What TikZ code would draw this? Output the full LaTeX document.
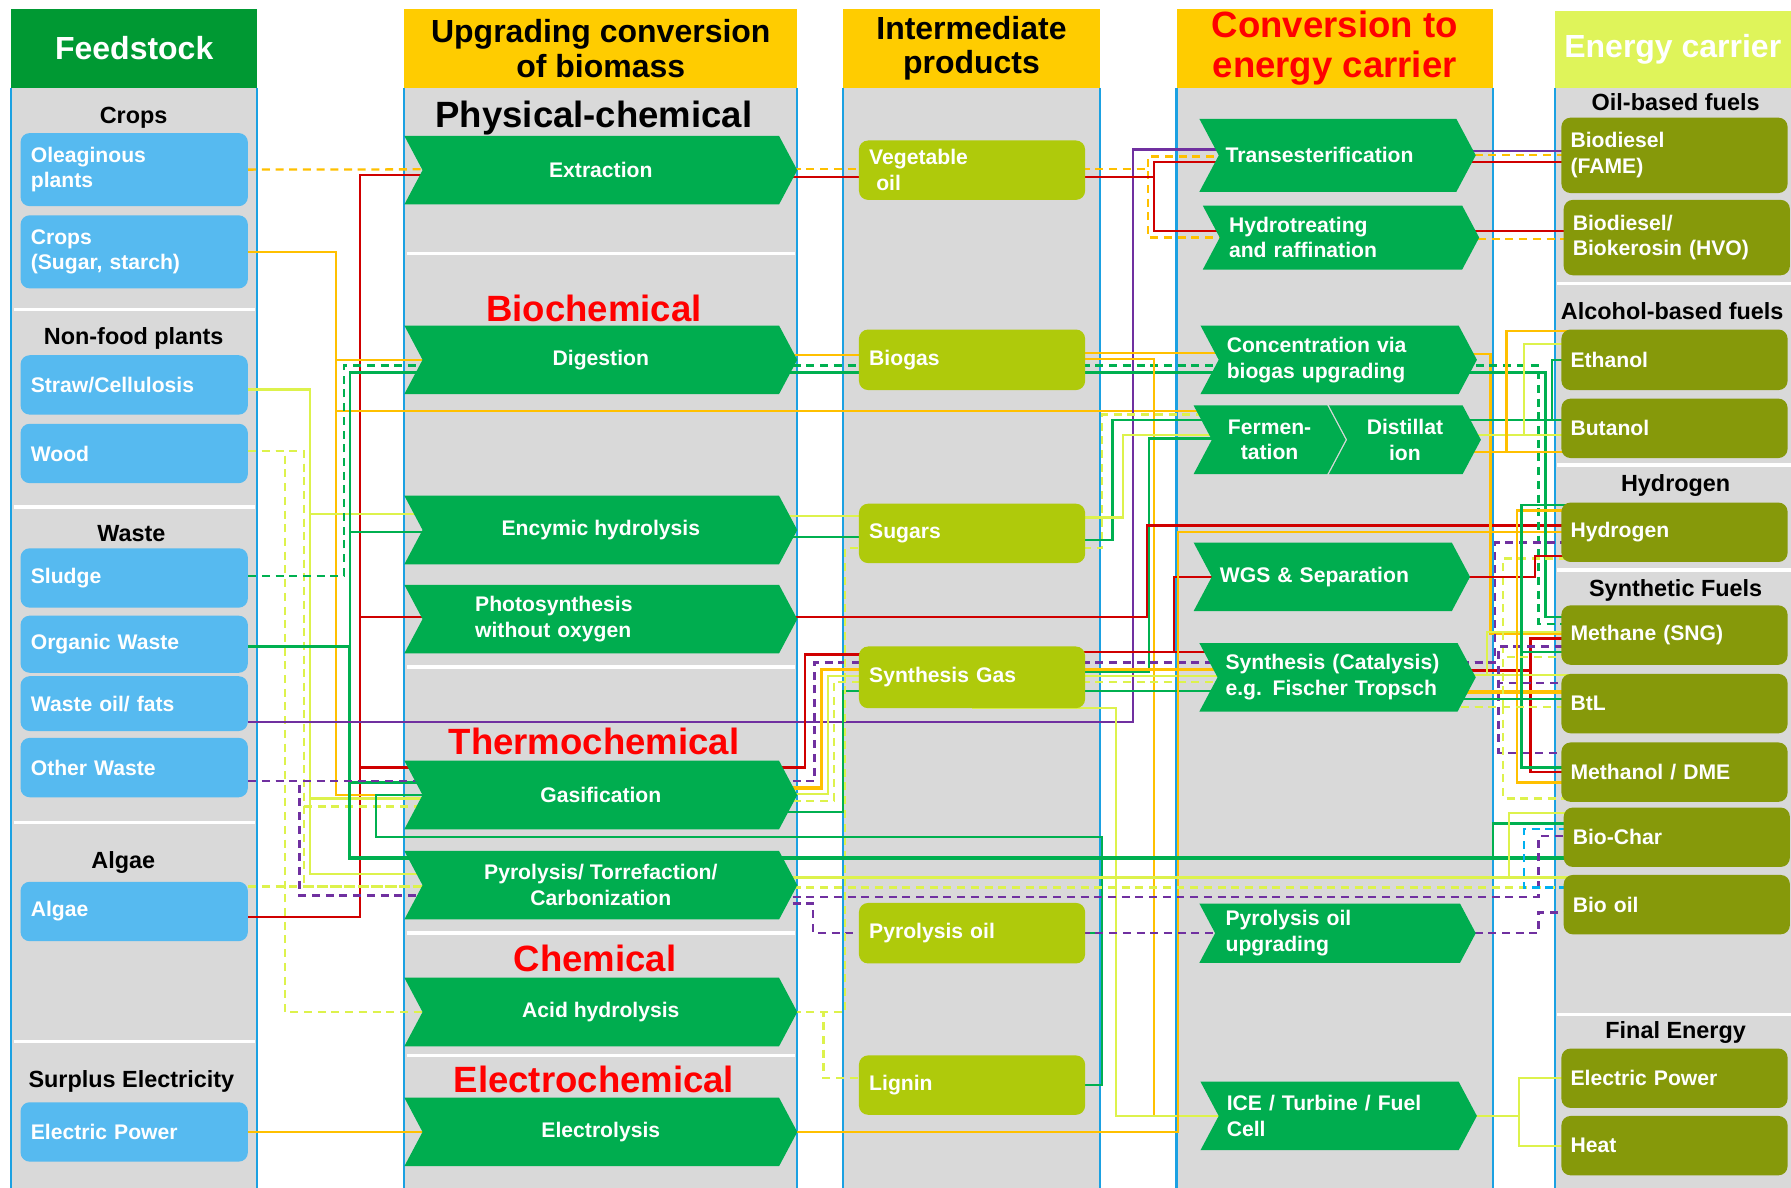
\documentclass[tikz,border=0pt]{standalone}
\usepackage{fontspec}
\setmainfont{Liberation Sans}
\usepackage{tikz}
\usetikzlibrary{shapes.symbols, positioning, calc}
\pgfdeclarelayer{bg}
\pgfdeclarelayer{wires}
\pgfsetlayers{bg,wires,main}
\definecolor{colgray}{HTML}{D9D9D9}
\definecolor{colblue}{HTML}{1BA1E2}
\definecolor{feedblue}{HTML}{56BAF0}
\definecolor{headgreen}{HTML}{009933}
\definecolor{headyellow}{HTML}{FFCC00}
\definecolor{headlime}{HTML}{DFF45A}
\definecolor{procgreen}{HTML}{00AD4F}
\definecolor{midlime}{HTML}{AFCA0B}
\definecolor{carrolive}{HTML}{86990A}
\definecolor{titlered}{HTML}{FF0000}
\definecolor{wred}{HTML}{D00000}
\definecolor{worange}{HTML}{FFC000}
\definecolor{wgreen}{HTML}{00B050}
\definecolor{wlime}{HTML}{DDF24C}
\definecolor{wpurple}{HTML}{7030A0}
\definecolor{wcyan}{HTML}{00B0F0}
\newcommand{\bxfont}{\fontsize{18.5}{22.5}\selectfont\bfseries}
\newcommand{\secfont}{\fontsize{20.5}{24}\selectfont\bfseries}
\newcommand{\bigfont}{\fontsize{32}{36}\selectfont\bfseries}
\newcommand{\hdfont}{\fontsize{28}{30}\selectfont\bfseries}
\tikzset{
  feed/.style={rounded corners=8pt, fill=feedblue, text=white, font=\bxfont, minimum width=199pt, minimum height=52pt, text width=181pt, align=left, inner sep=0pt},
  mid/.style={feed, fill=midlime, minimum width=198pt, text width=180pt},
  carr/.style={feed, fill=carrolive, minimum width=198pt, text width=182pt},
  proc/.style={signal, signal from=west, signal to=east, signal pointer angle=124, fill=procgreen, text=white, font=\bxfont, minimum width=344pt, minimum height=60pt, inner sep=0pt, align=center},
  conv/.style={proc, minimum width=242pt, text width=196pt, align=left},
  hdr/.style={minimum height=69pt, inner sep=0pt, font=\hdfont, align=center},
  sec/.style={font=\secfont, inner sep=0pt},
  big/.style={font=\bigfont, inner sep=0pt},
  wire/.style={line width=2pt},
  lnR/.style={wire, draw=wred},
  lnO/.style={wire, draw=worange},
  lnG/.style={wire, draw=wgreen},
  lnL/.style={wire, draw=wlime},
  lnP/.style={wire, draw=wpurple},
  lnC/.style={wire, draw=wcyan},
  dsh/.style={dash pattern=on 7pt off 5pt},
  thk/.style={line width=3pt}
}
\begin{document}
\begin{tikzpicture}[x=1pt, y=-1pt]
\useasboundingbox (0,0) rectangle (1568,1040);

% columns
\begin{pgfonlayer}{bg}
  \foreach \xa/\xb in {10/225, 354/698, 738/963, 1030/1307} {
    \fill[colgray] (\xa,77) rectangle (\xb,1040);
    \draw[colblue, line width=1.8pt] (\xa,77) -- (\xa,1040) (\xb,77) -- (\xb,1040);
  }
  \fill[colgray] (1361,77) rectangle (1568,1040);
  \draw[colblue, line width=1.8pt] (1361,77) -- (1361,1040);
  \foreach \yy in {271, 444, 720, 912} \draw[white, line width=3pt] (12,\yy) -- (223,\yy);
  \foreach \yy in {222, 584, 817, 924} \draw[white, line width=3pt] (356,\yy) -- (696,\yy);
  \foreach \yy in {248, 407, 499, 888} \draw[white, line width=3pt] (1363,\yy) -- (1568,\yy);
\end{pgfonlayer}

% headers
\node[hdr, fill=headgreen, text=white, minimum width=215pt] (hfeed) at (117.5,42.5) {Feedstock};
\node[hdr, fill=headyellow, minimum width=344pt] (hupg) at (526,42.5) {Upgrading conversion\\of biomass};
\node[hdr, fill=headyellow, minimum width=225pt] (hmid) at (850.5,42.5) {Intermediate\\products};
\node[hdr, fill=headyellow, minimum width=277pt, text=titlered, font=\fontsize{32}{35}\selectfont\bfseries] (hconv) at (1168.5,42.5) {Conversion to\\energy carrier};
\node[hdr, fill=headlime, text=white, minimum width=207pt, minimum height=67pt] (hcarr) at (1464.5,43.5) {Energy carrier};

% group labels
\node[sec] (lcrops) at (117,103) {Crops};
\node[sec] (lnonfood) at (117,296) {Non-food plants};
\node[sec] (lwaste) at (115,467) {Waste};
\node[sec] (lalgae) at (108,755) {Algae};
\node[sec] (lsurplus) at (115,947) {Surplus Electricity};
\node[big] (lphys) at (520,103) {Physical-chemical};
\node[big, text=titlered] (lbio) at (520,270) {Biochemical};
\node[big, text=titlered] (lthermo) at (520,649) {Thermochemical};
\node[big, text=titlered] (lchem) at (521,839) {Chemical};
\node[big, text=titlered] (lelchem) at (520,945) {Electrochemical};
\node[sec] (loil) at (1467,89) {Oil-based fuels};
\node[sec] (lalc) at (1464,272) {Alcohol-based fuels};
\node[sec] (lhyd) at (1467,425) {Hydrogen};
\node[sec] (lsyn) at (1467,517) {Synthetic Fuels};
\node[sec] (lfinal) at (1467,904) {Final Energy};

% feedstock
\node[feed, minimum height=64pt] (oleag) at (117.5,148.5) {Oleaginous\\plants};
\node[feed, minimum height=64pt] (cropss) at (117.5,220.5) {Crops\\(Sugar, starch)};
\node[feed] (straw) at (117.5,337) {Straw/Cellulosis};
\node[feed] (wood) at (117.5,397) {Wood};
\node[feed] (sludge) at (117.5,506) {Sludge};
\node[feed, minimum height=50pt] (orgw) at (117.5,564) {Organic Waste};
\node[feed, minimum height=48pt] (woil) at (117.5,616) {Waste oil/ fats};
\node[feed] (otherw) at (117.5,672) {Other Waste};
\node[feed] (algae) at (117.5,798) {Algae};
\node[feed] (elpow) at (117.5,991) {Electric Power};

% upgrading
\node[proc] (extr) at (526,149) {Extraction};
\node[proc] (dig) at (526,315) {Digestion};
\node[proc] (encym) at (526,464) {Encymic hydrolysis};
\node[proc, text width=220pt, align=left] (photo) at (526,542) {Photosynthesis\\without oxygen};
\node[proc] (gasif) at (526,696) {Gasification};
\node[proc] (pyro) at (526,775) {Pyrolysis/ Torrefaction/\\Carbonization};
\node[proc] (acid) at (526,886) {Acid hydrolysis};
\node[proc] (elys) at (526,991) {Electrolysis};

% intermediate products
\node[mid] (vegoil) at (851,149) {Vegetable\\\ oil};
\node[mid, minimum height=53pt] (biogas) at (851,315) {Biogas};
\node[mid] (sugars) at (851,467) {Sugars};
\node[mid, minimum height=54pt] (syngas) at (851,593) {Synthesis Gas};
\node[mid, minimum height=53pt] (pyroil) at (851,817) {Pyrolysis oil};
\node[mid] (lignin) at (851,950) {Lignin};

% conversion
\node[conv, minimum height=64pt] (trans) at (1171,136) {Transesterification};
\node[conv, minimum height=56pt] (hydro) at (1174,208) {Hydrotreating\\and raffination};
\node[conv] (conc) at (1172,315) {Concentration via\\biogas upgrading};
\node[conv, minimum width=133pt, text width=100pt, align=center] (ferm) at (1111.5,385) {Fermen-\\tation};
\node[conv, minimum width=133pt, text width=100pt, align=center] (dist) at (1230,385) {Distillat\\ion};
\node[conv] (wgs) at (1166,505) {WGS \& Separation};
\node[conv] (synth) at (1171,593) {Synthesis (Catalysis)\\e.g. Fischer Tropsch};
\node[conv, minimum height=52pt] (pyrupg) at (1171,817) {Pyrolysis oil\\upgrading};
\node[conv] (ice) at (1172,977) {ICE / Turbine / Fuel\\Cell};

% energy carriers
\node[carr, minimum height=66pt] (fame) at (1466,136) {Biodiesel\\(FAME)};
\node[carr, minimum height=66pt] (hvo) at (1468,208) {Biodiesel/\\Biokerosin (HVO)};
\node[carr, minimum height=53pt] (ethanol) at (1466,315) {Ethanol};
\node[carr] (butanol) at (1466,375) {Butanol};
\node[carr] (hydrogen) at (1466,466) {Hydrogen};
\node[carr] (methane) at (1466,556) {Methane (SNG)};
\node[carr] (btl) at (1466,616) {BtL};
\node[carr] (methanol) at (1466,676) {Methanol / DME};
\node[carr] (biochar) at (1468,733) {Bio-Char};
\node[carr] (biooil) at (1468,792) {Bio oil};
\node[carr] (elec) at (1466,944) {Electric Power};
\node[carr] (heat) at (1466,1003) {Heat};

\begin{pgfonlayer}{wires}
% feedstock -> upgrading
\draw[lnO, dsh] (oleag.east) -- ([yshift=1pt]extr.center);
\draw[lnR] ([yshift=-5pt]algae.east) -- ++(98,0) |- ([yshift=-4pt]extr.center);
\draw[lnR] ([yshift=-5pt]algae.east) -- ++(98,0) |- ([yshift=2pt]photo.center);
\draw[lnR] ([yshift=-5pt]algae.east) -- ++(98,0) |- ([yshift=24pt]gasif.center);
\draw[lnO] (cropss.east) -- ++(77,0) |- (dig.center);
\draw[lnO] (cropss.east) -- ++(77,0) |- ([yshift=25pt]ferm.center);
\draw[lnO] (cropss.east) -- ++(77,0) |- (gasif.center);
\draw[lnL] ([yshift=-4pt]straw.east) -- ++(54,0) |- ([yshift=14pt]encym.center);
\draw[lnL] ([yshift=-4pt]straw.east) -- ++(54,0) |- ([yshift=-3pt]gasif.center);
\draw[lnL] ([yshift=-4pt]straw.east) -- ++(54,0) |- ([yshift=10pt]pyro.center);
\draw[lnL, dsh] ([yshift=2pt]wood.east) -- ++(49,0) |- ([yshift=-10pt]gasif.center);
\draw[lnL, dsh] ([yshift=2pt]wood.east) -- ++(49,0) |- ([yshift=-1pt]pyro.center);
\draw[lnL, dsh] ([yshift=2pt]wood.east) -- ++(32,0) |- (acid.center);
\draw[lnL, dsh] ([yshift=22pt]algae.east) -- ([yshift=-1pt]pyro.center);
\draw[lnG, dsh] ([yshift=2pt]sludge.east) -- ++(84,0) |- ([yshift=-5pt]dig.center);
\draw[lnG] ([yshift=-2pt]orgw.east) -- ++(89,0) |- ([yshift=-11pt]dig.center);
\draw[lnG] ([yshift=-2pt]orgw.east) -- ++(89,0) |- ([yshift=-2pt]encym.center);
\draw[lnG] ([yshift=-2pt]orgw.east) -- ++(89,0) |- ([yshift=11pt]gasif.center);
\draw[lnG, thk] ([yshift=-2pt]orgw.east) -- ++(89,0) |- ([yshift=24pt]pyro.center);
\draw[lnP] ([yshift=-16pt]woil.east) -- ++(775,0) |- ([yshift=5pt]trans.center);
\draw[lnP, dsh] ([yshift=-12pt]otherw.east) -- ([yshift=12pt]gasif.center);
\draw[lnP, dsh] ([yshift=-12pt]otherw.east) -- ++(45,0) |- ([yshift=-9pt]pyro.center);
\draw[lnO] (elpow.east) -- (elys.center);

% upgrading -> intermediate products
\draw[lnO, dsh] ([yshift=1pt]extr.center) -- ([yshift=1pt]vegoil.center);
\draw[lnR] ([yshift=-6pt]extr.center) -- ([yshift=-6pt]vegoil.center);
\draw[lnO] ([yshift=4pt]dig.center) -- ([yshift=4pt]biogas.center);
\draw[lnG, dsh] ([yshift=-5pt]dig.center) -- ([yshift=-5pt]biogas.center);
\draw[lnG] ([yshift=-11pt]dig.center) -- ([yshift=-11pt]biogas.center);
\draw[lnL] ([yshift=12pt]encym.center) -- ([yshift=15pt]sugars.center);
\draw[lnG] ([yshift=-6pt]encym.center) -- ([yshift=-3pt]sugars.center);
\draw[lnR] ([yshift=24pt]gasif.center) -- ++(179,0) |- ([yshift=20pt]syngas.center);
\draw[lnP, dsh] ([yshift=12pt]gasif.center) -- ++(187,0) |- ([yshift=13pt]syngas.center);
\draw[lnO, thk] ([yshift=6pt]gasif.center) -- ++(193,0) |- ([yshift=7pt]syngas.center);
\draw[lnL] ([yshift=1pt]gasif.center) -- ++(199,0) |- ([yshift=1pt]syngas.center);
\draw[lnL, dsh] ([yshift=-5pt]gasif.center) -- ++(204,0) |- ([yshift=-4pt]syngas.center);
\draw[lnG] ([yshift=-15pt]gasif.center) -- ++(212,0) |- ([yshift=-12pt]syngas.center);
\draw[lnP, dsh] ([yshift=-16pt]pyro.center) -- ++(186,0) |- (pyroil.center);
\draw[lnL, dsh] (acid.center) -- ++(195,0) |- ([yshift=6pt]lignin.center);
\draw[lnL, dsh] (acid.center) -- ++(214,0) -- ++(0,-406) -- ++(225,0) |- ([yshift=22pt]ferm.center);
\draw[lnG] (pyroil.center) -- ++(114,0) -- ++(0,-84) -- ++(-636,0) |- (gasif.center);
\draw[lnG] (lignin.center) -- ++(114,0) |- (pyroil.center);

% intermediate products -> conversion
\draw[lnO, dsh] ([yshift=1pt]vegoil.center) -- ++(154,0) |- ([yshift=-1pt]trans.center);
\draw[lnO, dsh] ([yshift=1pt]vegoil.center) -- ++(154,0) |- (hydro.center);
\draw[lnR] ([yshift=-6pt]vegoil.center) -- ++(159,0) |- ([yshift=-6pt]trans.center);
\draw[lnR] ([yshift=-6pt]vegoil.center) -- ++(159,0) |- ([yshift=6pt]hydro.center);
\draw[lnO] ([yshift=6pt]biogas.center) -- ([yshift=6pt]conc.center);
\draw[lnG, dsh] ([yshift=-5pt]biogas.center) -- ([yshift=-5pt]conc.center);
\draw[lnG] ([yshift=-11pt]biogas.center) -- ([yshift=-11pt]conc.center);
\draw[lnO] ([yshift=1pt]biogas.center) -- ++(159,0) |- (ice.center);
\draw[lnG] ([yshift=-6pt]sugars.center) -- ++(123,0) |- ([yshift=17pt]ferm.center);
\draw[lnL] ([yshift=14pt]sugars.center) -- ++(132,0) |- ([yshift=4pt]ferm.center);
\draw[lnG] ([yshift=5pt]syngas.center) -- ++(155,0) |- ([yshift=1pt]ferm.center);
\draw[lnR] ([yshift=22pt]syngas.center) -- ++(177,0) |- (wgs.center);
\draw[lnR] ([yshift=22pt]syngas.center) -- ([yshift=22pt]synth.center);
\draw[lnP, dsh] ([yshift=13pt]syngas.center) -- ([yshift=13pt]synth.center);
\draw[lnO, thk] ([yshift=7pt]syngas.center) -- ([yshift=7pt]synth.center);
\draw[lnL] ([yshift=1pt]syngas.center) -- ([yshift=1pt]synth.center);
\draw[lnL, dsh] ([yshift=-4pt]syngas.center) -- ([yshift=-4pt]synth.center);
\draw[lnG] ([yshift=-12pt]syngas.center) -- ([yshift=-12pt]synth.center);
\draw[lnL] ([yshift=-27pt]syngas.center) -- ++(126,0) |- (ice.center);
\draw[lnR] ([yshift=2pt]photo.center) -- ++(478,0) |- ([yshift=6pt]hydrogen.center);
\draw[lnO] (elys.center) -- ++(505,0) |- (hydrogen.center);
\draw[lnP, dsh] (pyroil.center) -- (pyrupg.center);

% conversion -> energy carriers
\draw[lnP] ([yshift=4pt]trans.center) -- ([yshift=4pt]fame.center);
\draw[lnO, dsh] (trans.center) -- (fame.center);
\draw[lnR] ([yshift=-6pt]trans.center) -- ([yshift=-6pt]fame.center);
\draw[lnR] ([yshift=6pt]hydro.center) -- ([yshift=6pt]hvo.center);
\draw[lnO, dsh] ([yshift=-1pt]hydro.center) -- ([yshift=-1pt]hvo.center);
\draw[lnO] ([yshift=5pt]conc.center) -- ++(133,0) |- ([yshift=1pt]methane.center);
\draw[lnG, dsh] ([yshift=-5pt]conc.center) -- ++(175,0) |- ([yshift=10pt]methane.center);
\draw[lnG] ([yshift=-11pt]conc.center) -- ++(181,0) |- ([yshift=16pt]methane.center);
\draw[lnG] ([yshift=17pt]dist.center) -- ([yshift=7pt]butanol.center);
\draw[lnG] ([yshift=17pt]dist.center) -- ++(129,0) |- (ethanol.center);
\draw[lnL] ([yshift=4pt]dist.center) -- ([yshift=-6pt]butanol.center);
\draw[lnL] ([yshift=4pt]dist.center) -- ++(104,0) |- ([yshift=14pt]ethanol.center);
\draw[lnO] ([yshift=-11pt]dist.center) -- ([yshift=-21pt]butanol.center);
\draw[lnO] ([yshift=-11pt]dist.center) -- ++(89,0) |- ([yshift=25pt]ethanol.center);
\draw[lnL, dsh] ([yshift=-26pt]synth.center) -- ++(145,0) |- ([yshift=-23pt]hydrogen.center);
\draw[lnR] (wgs.center) -- ++(178,0) |- ([yshift=-21pt]hydrogen.center);
\draw[lnR] ([yshift=6pt]synth.center) -- ++(169,0) |- (methanol.center);
\draw[lnR] ([yshift=6pt]synth.center) -- ++(169,0) |- ([yshift=-3pt]methane.center);
\draw[lnP, dsh] ([yshift=13pt]synth.center) -- ++(138,0) |- ([yshift=-9pt]hydrogen.center);
\draw[lnP, dsh] ([yshift=13pt]synth.center) -- ++(141,0) |- ([yshift=-10pt]methane.center);
\draw[lnP, dsh] ([yshift=13pt]synth.center) -- ++(141,0) |- ([yshift=18pt]btl.center);
\draw[lnP, dsh] ([yshift=13pt]synth.center) -- ++(141,0) |- ([yshift=17pt]methanol.center);
\draw[lnL] ([yshift=2pt]synth.center) -- ([yshift=25pt]btl.center);
\draw[lnL] ([yshift=2pt]synth.center) -- ++(131,0) |- ([yshift=3pt]methane.center);
\draw[lnO, thk] ([yshift=-13pt]synth.center) -- ([yshift=10pt]btl.center);
\draw[lnO] ([yshift=-13pt]synth.center) -- ++(157,0) |- ([yshift=19pt]hydrogen.center);
\draw[lnO] ([yshift=-13pt]synth.center) -- ++(157,0) |- ([yshift=-9pt]methanol.center);
\draw[lnG] ([yshift=-19pt]synth.center) -- ([yshift=4pt]btl.center);
\draw[lnG] ([yshift=-19pt]synth.center) -- ++(161,0) |- ([yshift=24pt]hydrogen.center);
\draw[lnG] ([yshift=-19pt]synth.center) -- ++(161,0) |- ([yshift=-15pt]methane.center);
\draw[lnG] ([yshift=-19pt]synth.center) -- ++(161,0) |- ([yshift=4pt]methanol.center);
\draw[lnL, dsh] ([yshift=-26pt]synth.center) -- ([yshift=-3pt]btl.center);
\draw[lnL, dsh] ([yshift=-26pt]synth.center) -- ++(145,0) |- ([yshift=-19pt]methane.center);
\draw[lnL, dsh] ([yshift=-26pt]synth.center) -- ++(145,0) |- ([yshift=-23pt]methanol.center);
\draw[lnG, thk] ([yshift=24pt]pyro.center) -- ([yshift=-18pt]biochar.center);
\draw[lnG] ([yshift=24pt]pyro.center) -- ++(781,0) |- ([yshift=12pt]biochar.center);
\draw[lnL, thk] ([yshift=7pt]pyro.center) -- ([yshift=24pt]biooil.center);
\draw[lnL] ([yshift=7pt]pyro.center) -- ++(795,0) |- ([yshift=21pt]biochar.center);
\draw[lnL, dsh] ([yshift=-2pt]pyro.center) -- ([yshift=15pt]biooil.center);
\draw[lnP, dsh] ([yshift=-10pt]pyro.center) -- ++(821,0) |- ([yshift=1pt]biochar.center);
\draw[lnC, dsh] ([yshift=15pt]biooil.center) -- ++(-134,0) |- ([yshift=7pt]biochar.center);
\draw[lnP, dsh] (pyrupg.center) -- ++(176,0) |- ([yshift=-7pt]biooil.center);
\draw[lnL] (ice.center) -- ++(158,0) |- (elec.center);
\draw[lnL] (ice.center) -- ++(158,0) |- (heat.center);
\end{pgfonlayer}
\end{tikzpicture}
\end{document}
